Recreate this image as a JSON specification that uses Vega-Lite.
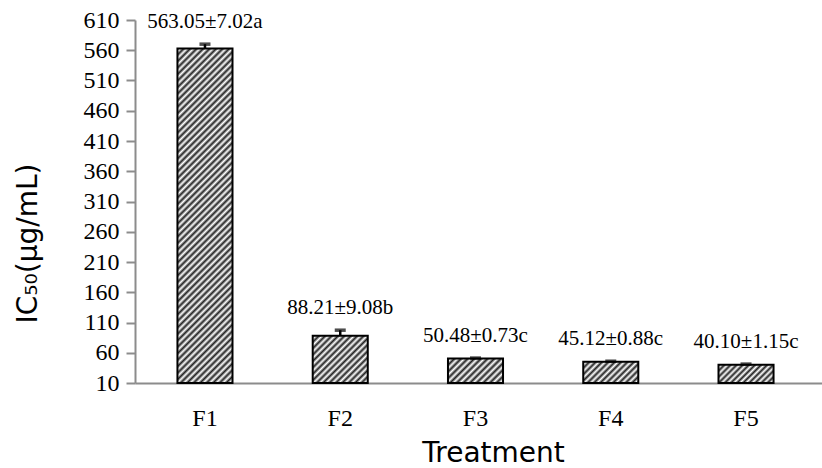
{
  "$schema": "https://vega.github.io/schema/vega-lite/v6.json",
  "autosize": {"type": "none"},
  "padding": {"left": 135, "top": 20, "right": 0, "bottom": 85},
  "width": 687,
  "height": 363,
  "background": "white",
  "config": {
    "view": {"stroke": null},
    "axis": {
      "labelFont": "Liberation Serif",
      "labelFontSize": 24,
      "labelColor": "#000000",
      "labelOverlap": false,
      "labelFlush": false,
      "domainColor": "#8c8c8c",
      "domainWidth": 2,
      "tickColor": "#8c8c8c",
      "tickWidth": 2,
      "grid": false,
      "titleFont": "DejaVu Sans",
      "titleFontSize": 28,
      "titleFontWeight": "normal",
      "titleColor": "#000000"
    }
  },
  "data": {
    "values": [
      {"treatment": "F1", "mean": 563.05, "sd": 7.02, "top": 570.07, "label": "563.05±7.02a"},
      {"treatment": "F2", "mean": 88.21, "sd": 9.08, "top": 97.29, "label": "88.21±9.08b"},
      {"treatment": "F3", "mean": 50.48, "sd": 0.73, "top": 51.21, "label": "50.48±0.73c"},
      {"treatment": "F4", "mean": 45.12, "sd": 0.88, "top": 46.0, "label": "45.12±0.88c"},
      {"treatment": "F5", "mean": 40.10, "sd": 1.15, "top": 41.25, "label": "40.10±1.15c"}
    ]
  },
  "encoding": {
    "x": {
      "field": "treatment",
      "type": "nominal",
      "scale": {"paddingInner": 0.593, "paddingOuter": 0.336, "align": 0.467},
      "axis": {
        "title": "Treatment",
        "labelAngle": 0,
        "ticks": false,
        "labelPadding": 23,
        "titleX": 358,
        "titleY": 70,
        "titleBaseline": "middle",
        "titleAlign": "center"
      }
    },
    "y": {
      "field": "mean",
      "type": "quantitative",
      "scale": {"domain": [10, 610], "nice": false, "zero": false},
      "axis": {
        "title": "IC₅₀(μg/mL)",
        "values": [10, 60, 110, 160, 210, 260, 310, 360, 410, 460, 510, 560, 610],
        "tickCount": 30,
        "tickSize": 9,
        "labelPadding": 7,
        "titleX": -107,
        "titleY": 223,
        "titleAngle": -90,
        "titleAlign": "center",
        "titleBaseline": "middle"
      }
    }
  },
  "layer": [
    {
      "transform": [{"filter": "datum.treatment == 'F1'"}],
      "mark": {"type": "bar", "stroke": "#000000", "strokeWidth": 2,
        "fill": {"gradient": "linear", "x1": 0, "y1": 0, "x2": 0.1864, "y2": 1.1338, "stops": [
          {"offset":0,"color":"#222"},{"offset":0.0083,"color":"#fff"},{"offset":0.0167,"color":"#222"},{"offset":0.025,"color":"#fff"},{"offset":0.0333,"color":"#222"},{"offset":0.0417,"color":"#fff"},{"offset":0.05,"color":"#222"},{"offset":0.0583,"color":"#fff"},{"offset":0.0667,"color":"#222"},{"offset":0.075,"color":"#fff"},{"offset":0.0833,"color":"#222"},{"offset":0.0917,"color":"#fff"},
          {"offset":0.1,"color":"#222"},{"offset":0.1083,"color":"#fff"},{"offset":0.1167,"color":"#222"},{"offset":0.125,"color":"#fff"},{"offset":0.1333,"color":"#222"},{"offset":0.1417,"color":"#fff"},{"offset":0.15,"color":"#222"},{"offset":0.1583,"color":"#fff"},{"offset":0.1667,"color":"#222"},{"offset":0.175,"color":"#fff"},{"offset":0.1833,"color":"#222"},{"offset":0.1917,"color":"#fff"},
          {"offset":0.2,"color":"#222"},{"offset":0.2083,"color":"#fff"},{"offset":0.2167,"color":"#222"},{"offset":0.225,"color":"#fff"},{"offset":0.2333,"color":"#222"},{"offset":0.2417,"color":"#fff"},{"offset":0.25,"color":"#222"},{"offset":0.2583,"color":"#fff"},{"offset":0.2667,"color":"#222"},{"offset":0.275,"color":"#fff"},{"offset":0.2833,"color":"#222"},{"offset":0.2917,"color":"#fff"},
          {"offset":0.3,"color":"#222"},{"offset":0.3083,"color":"#fff"},{"offset":0.3167,"color":"#222"},{"offset":0.325,"color":"#fff"},{"offset":0.3333,"color":"#222"},{"offset":0.3417,"color":"#fff"},{"offset":0.35,"color":"#222"},{"offset":0.3583,"color":"#fff"},{"offset":0.3667,"color":"#222"},{"offset":0.375,"color":"#fff"},{"offset":0.3833,"color":"#222"},{"offset":0.3917,"color":"#fff"},
          {"offset":0.4,"color":"#222"},{"offset":0.4083,"color":"#fff"},{"offset":0.4167,"color":"#222"},{"offset":0.425,"color":"#fff"},{"offset":0.4333,"color":"#222"},{"offset":0.4417,"color":"#fff"},{"offset":0.45,"color":"#222"},{"offset":0.4583,"color":"#fff"},{"offset":0.4667,"color":"#222"},{"offset":0.475,"color":"#fff"},{"offset":0.4833,"color":"#222"},{"offset":0.4917,"color":"#fff"},
          {"offset":0.5,"color":"#222"},{"offset":0.5083,"color":"#fff"},{"offset":0.5167,"color":"#222"},{"offset":0.525,"color":"#fff"},{"offset":0.5333,"color":"#222"},{"offset":0.5417,"color":"#fff"},{"offset":0.55,"color":"#222"},{"offset":0.5583,"color":"#fff"},{"offset":0.5667,"color":"#222"},{"offset":0.575,"color":"#fff"},{"offset":0.5833,"color":"#222"},{"offset":0.5917,"color":"#fff"},
          {"offset":0.6,"color":"#222"},{"offset":0.6083,"color":"#fff"},{"offset":0.6167,"color":"#222"},{"offset":0.625,"color":"#fff"},{"offset":0.6333,"color":"#222"},{"offset":0.6417,"color":"#fff"},{"offset":0.65,"color":"#222"},{"offset":0.6583,"color":"#fff"},{"offset":0.6667,"color":"#222"},{"offset":0.675,"color":"#fff"},{"offset":0.6833,"color":"#222"},{"offset":0.6917,"color":"#fff"},
          {"offset":0.7,"color":"#222"},{"offset":0.7083,"color":"#fff"},{"offset":0.7167,"color":"#222"},{"offset":0.725,"color":"#fff"},{"offset":0.7333,"color":"#222"},{"offset":0.7417,"color":"#fff"},{"offset":0.75,"color":"#222"},{"offset":0.7583,"color":"#fff"},{"offset":0.7667,"color":"#222"},{"offset":0.775,"color":"#fff"},{"offset":0.7833,"color":"#222"},{"offset":0.7917,"color":"#fff"},
          {"offset":0.8,"color":"#222"},{"offset":0.8083,"color":"#fff"},{"offset":0.8167,"color":"#222"},{"offset":0.825,"color":"#fff"},{"offset":0.8333,"color":"#222"},{"offset":0.8417,"color":"#fff"},{"offset":0.85,"color":"#222"},{"offset":0.8583,"color":"#fff"},{"offset":0.8667,"color":"#222"},{"offset":0.875,"color":"#fff"},{"offset":0.8833,"color":"#222"},{"offset":0.8917,"color":"#fff"},
          {"offset":0.9,"color":"#222"},{"offset":0.9083,"color":"#fff"},{"offset":0.9167,"color":"#222"},{"offset":0.925,"color":"#fff"},{"offset":0.9333,"color":"#222"},{"offset":0.9417,"color":"#fff"},{"offset":0.95,"color":"#222"},{"offset":0.9583,"color":"#fff"},{"offset":0.9667,"color":"#222"},{"offset":0.975,"color":"#fff"},{"offset":0.9833,"color":"#222"},{"offset":0.9917,"color":"#fff"},
          {"offset":1,"color":"#222"}
        ]}},
      "encoding": {"y2": {"datum": 10}}
    },
    {
      "transform": [{"filter": "datum.treatment == 'F2'"}],
      "mark": {"type": "bar", "stroke": "#000000", "strokeWidth": 2,
        "fill": {"gradient": "linear", "x1": 0, "y1": 0, "x2": 1.0693, "y2": 0.9194, "stops": [
          {"offset":0,"color":"#222"},{"offset":0.0313,"color":"#fff"},{"offset":0.0625,"color":"#222"},{"offset":0.0938,"color":"#fff"},{"offset":0.125,"color":"#222"},{"offset":0.1563,"color":"#fff"},{"offset":0.1875,"color":"#222"},{"offset":0.2188,"color":"#fff"},
          {"offset":0.25,"color":"#222"},{"offset":0.2813,"color":"#fff"},{"offset":0.3125,"color":"#222"},{"offset":0.3438,"color":"#fff"},{"offset":0.375,"color":"#222"},{"offset":0.4063,"color":"#fff"},{"offset":0.4375,"color":"#222"},{"offset":0.4688,"color":"#fff"},
          {"offset":0.5,"color":"#222"},{"offset":0.5313,"color":"#fff"},{"offset":0.5625,"color":"#222"},{"offset":0.5938,"color":"#fff"},{"offset":0.625,"color":"#222"},{"offset":0.6563,"color":"#fff"},{"offset":0.6875,"color":"#222"},{"offset":0.7188,"color":"#fff"},
          {"offset":0.75,"color":"#222"},{"offset":0.7813,"color":"#fff"},{"offset":0.8125,"color":"#222"},{"offset":0.8438,"color":"#fff"},{"offset":0.875,"color":"#222"},{"offset":0.9063,"color":"#fff"},{"offset":0.9375,"color":"#222"},{"offset":0.9688,"color":"#fff"},
          {"offset":1,"color":"#222"}
        ]}},
      "encoding": {"y2": {"datum": 10}}
    },
    {
      "transform": [{"filter": "datum.treatment == 'F3'"}],
      "mark": {"type": "bar", "stroke": "#000000", "strokeWidth": 2,
        "fill": {"gradient": "linear", "x1": 0, "y1": 0, "x2": 1.2061, "y2": 0.5372, "stops": [
          {"offset":0,"color":"#222"},{"offset":0.0417,"color":"#fff"},{"offset":0.0833,"color":"#222"},{"offset":0.125,"color":"#fff"},{"offset":0.1667,"color":"#222"},{"offset":0.2083,"color":"#fff"},
          {"offset":0.25,"color":"#222"},{"offset":0.2917,"color":"#fff"},{"offset":0.3333,"color":"#222"},{"offset":0.375,"color":"#fff"},{"offset":0.4167,"color":"#222"},{"offset":0.4583,"color":"#fff"},
          {"offset":0.5,"color":"#222"},{"offset":0.5417,"color":"#fff"},{"offset":0.5833,"color":"#222"},{"offset":0.625,"color":"#fff"},{"offset":0.6667,"color":"#222"},{"offset":0.7083,"color":"#fff"},
          {"offset":0.75,"color":"#222"},{"offset":0.7917,"color":"#fff"},{"offset":0.8333,"color":"#222"},{"offset":0.875,"color":"#fff"},{"offset":0.9167,"color":"#222"},{"offset":0.9583,"color":"#fff"},
          {"offset":1,"color":"#222"}
        ]}},
      "encoding": {"y2": {"datum": 10}}
    },
    {
      "transform": [{"filter": "datum.treatment == 'F4'"}],
      "mark": {"type": "bar", "stroke": "#000000", "strokeWidth": 2,
        "fill": {"gradient": "linear", "x1": 0, "y1": 0, "x2": 1.2063, "y2": 0.4661, "stops": [
          {"offset":0,"color":"#222"},{"offset":0.0417,"color":"#fff"},{"offset":0.0833,"color":"#222"},{"offset":0.125,"color":"#fff"},{"offset":0.1667,"color":"#222"},{"offset":0.2083,"color":"#fff"},
          {"offset":0.25,"color":"#222"},{"offset":0.2917,"color":"#fff"},{"offset":0.3333,"color":"#222"},{"offset":0.375,"color":"#fff"},{"offset":0.4167,"color":"#222"},{"offset":0.4583,"color":"#fff"},
          {"offset":0.5,"color":"#222"},{"offset":0.5417,"color":"#fff"},{"offset":0.5833,"color":"#222"},{"offset":0.625,"color":"#fff"},{"offset":0.6667,"color":"#222"},{"offset":0.7083,"color":"#fff"},
          {"offset":0.75,"color":"#222"},{"offset":0.7917,"color":"#fff"},{"offset":0.8333,"color":"#222"},{"offset":0.875,"color":"#fff"},{"offset":0.9167,"color":"#222"},{"offset":0.9583,"color":"#fff"},
          {"offset":1,"color":"#222"}
        ]}},
      "encoding": {"y2": {"datum": 10}}
    },
    {
      "transform": [{"filter": "datum.treatment == 'F5'"}],
      "mark": {"type": "bar", "stroke": "#000000", "strokeWidth": 2,
        "fill": {"gradient": "linear", "x1": 0, "y1": 0, "x2": 1.1995, "y2": 0.3969, "stops": [
          {"offset":0,"color":"#222"},{"offset":0.0417,"color":"#fff"},{"offset":0.0833,"color":"#222"},{"offset":0.125,"color":"#fff"},{"offset":0.1667,"color":"#222"},{"offset":0.2083,"color":"#fff"},
          {"offset":0.25,"color":"#222"},{"offset":0.2917,"color":"#fff"},{"offset":0.3333,"color":"#222"},{"offset":0.375,"color":"#fff"},{"offset":0.4167,"color":"#222"},{"offset":0.4583,"color":"#fff"},
          {"offset":0.5,"color":"#222"},{"offset":0.5417,"color":"#fff"},{"offset":0.5833,"color":"#222"},{"offset":0.625,"color":"#fff"},{"offset":0.6667,"color":"#222"},{"offset":0.7083,"color":"#fff"},
          {"offset":0.75,"color":"#222"},{"offset":0.7917,"color":"#fff"},{"offset":0.8333,"color":"#222"},{"offset":0.875,"color":"#fff"},{"offset":0.9167,"color":"#222"},{"offset":0.9583,"color":"#fff"},
          {"offset":1,"color":"#222"}
        ]}},
      "encoding": {"y2": {"datum": 10}}
    },
    {
      "mark": {"type": "rule", "color": "#000000", "strokeWidth": 2.5},
      "encoding": {
        "y2": {"field": "top"}
      }
    },
    {
      "mark": {"type": "tick", "color": "#000000", "thickness": 3.5, "size": 11},
      "encoding": {
        "y": {"field": "top", "type": "quantitative"}
      }
    },
    {
      "mark": {"type": "text", "font": "Liberation Serif", "fontSize": 21, "color": "#000000", "baseline": "alphabetic", "dy": -16},
      "encoding": {
        "y": {"field": "top", "type": "quantitative"},
        "text": {"field": "label"}
      }
    }
  ]
}
